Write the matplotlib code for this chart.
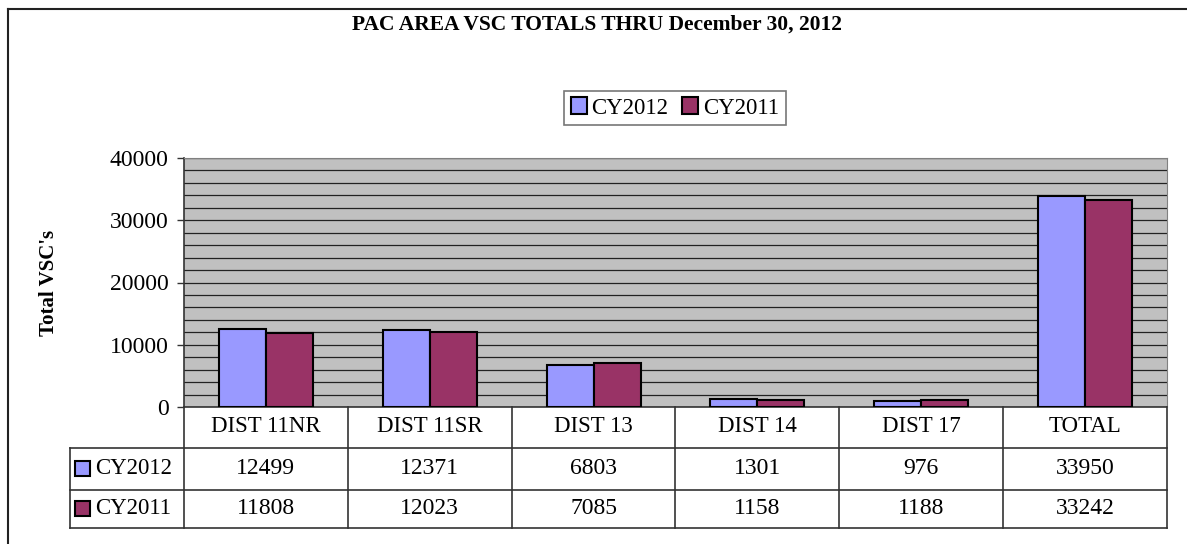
import numpy as np
import matplotlib.pyplot as plt
from matplotlib import transforms
from matplotlib.lines import Line2D
from matplotlib.patches import Rectangle

categories = ['DIST 11NR', 'DIST 11SR', 'DIST 13', 'DIST 14', 'DIST 17', 'TOTAL']
cy2012 = [12499, 12371, 6803, 1301, 976, 33950]
cy2011 = [11808, 12023, 7085, 1158, 1188, 33242]
series = ['CY2012', 'CY2011']
colors = ['#9999FF', '#993366']

plt.rcParams['font.family'] = ['Liberation Serif', 'DejaVu Serif']

W, H = 1187, 544
fig = plt.figure(figsize=(W / 100, H / 100), dpi=100)

# pixel -> figure fraction helpers
def fx(p):
    return p / W

def fy(p):
    return 1 - p / H

ax = fig.add_axes([fx(184), fy(407), fx(1167) - fx(184), fy(158) - fy(407)])
ax.set_facecolor('#C0C0C0')

x = np.arange(len(categories))
w = 0.287
values = [cy2012, cy2011]
for k, vals in enumerate(values):
    ax.bar(x + (k - 0.5) * w, vals, w, color=colors[k], edgecolor='black',
           linewidth=1.5, label=series[k], zorder=3)

ax.set_xlim(-0.5, len(categories) - 0.5)
ax.set_ylim(0, 40000)
ax.set_yticks(np.arange(0, 40001, 10000))
ax.set_yticks(np.arange(0, 40001, 2000), minor=True)
ax.set_xticks([])
ax.grid(axis='y', which='both', color='#222222', linewidth=0.9, zorder=1)
ax.set_axisbelow(True)
ax.tick_params(axis='y', which='major', labelsize=17, length=5, pad=6,
               color='#333333', width=1)
ax.tick_params(axis='y', which='minor', length=0)
for s in ['top', 'right']:
    ax.spines[s].set_color('#808080')
for s in ['left', 'bottom']:
    ax.spines[s].set_color('#333333')
    ax.spines[s].set_linewidth(1.2)

# data table under the chart
tr = transforms.blended_transform_factory(ax.transData, fig.transFigure)
lc = '#333333'
left_x = -0.5 - 114 / 164
right_x = len(categories) - 0.5
for b in np.arange(len(categories) + 1) - 0.5:
    ax.add_line(Line2D([b, b], [fy(407), fy(528)], transform=tr, color=lc,
                       lw=1.2, clip_on=False))
ax.add_line(Line2D([left_x, left_x], [fy(448), fy(528)], transform=tr,
                   color=lc, lw=1.2, clip_on=False))
for yy in [448, 490, 528]:
    ax.add_line(Line2D([left_x, right_x], [fy(yy), fy(yy)], transform=tr,
                       color=lc, lw=1.2, clip_on=False))

for i, cat in enumerate(categories):
    ax.text(i, fy(427), cat, transform=tr, ha='center', va='center', fontsize=16.5)
    ax.text(i, fy(469), str(cy2012[i]), transform=tr, ha='center', va='center', fontsize=17)
    ax.text(i, fy(509), str(cy2011[i]), transform=tr, ha='center', va='center', fontsize=17)

for k, yc in enumerate([469, 509]):
    fig.add_artist(Rectangle((fx(75), fy(yc + 7)), fx(15), 15 / H,
                             transform=fig.transFigure, facecolor=colors[k],
                             edgecolor='black', lw=1.5))
    fig.text(fx(95), fy(yc), series[k], ha='left', va='center', fontsize=16.5)

# legend
leg = fig.legend(loc='center', bbox_to_anchor=(fx(675), fy(108)),
                 bbox_transform=fig.transFigure, ncol=2, fontsize=16.5,
                 handlelength=0.7, handleheight=0.7, handletextpad=0.2,
                 columnspacing=0.6, borderpad=0.3, fancybox=False,
                 frameon=True, edgecolor='#555555')
leg.get_frame().set_linewidth(1.2)

# titles
fig.text(fx(597), fy(25), 'PAC AREA VSC TOTALS THRU December 30, 2012',
         ha='center', va='center', fontsize=15.5, fontweight='bold')
fig.text(fx(49), fy(283), "Total VSC's", rotation=90, ha='center',
         va='center', fontsize=15, fontweight='bold')

# outer frame (only left and top edges are visible)
fig.add_artist(Line2D([fx(8), fx(8)], [fy(9), 0], transform=fig.transFigure,
                      color='#222222', lw=1.5))
fig.add_artist(Line2D([fx(8), 1], [fy(9), fy(9)], transform=fig.transFigure,
                      color='#222222', lw=1.5))

fig.savefig('out.png', dpi=100)
